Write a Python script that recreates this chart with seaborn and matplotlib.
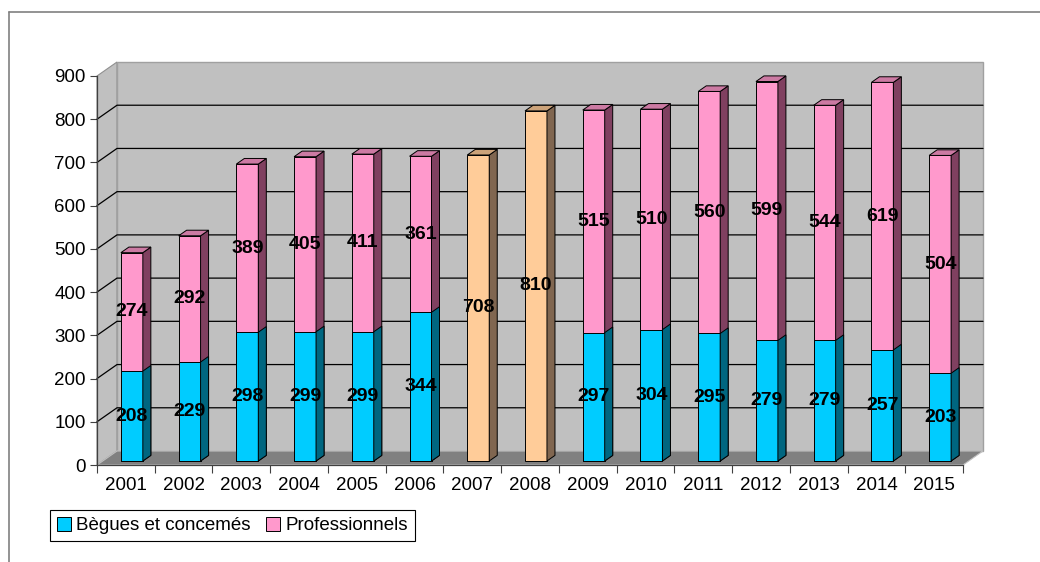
import numpy as np
import matplotlib
matplotlib.use('Agg')
import matplotlib.pyplot as plt
from matplotlib.patches import Polygon, Rectangle, Patch
from matplotlib.lines import Line2D
import seaborn as sns

sns.set_style('white')
plt.rcParams['font.family'] = ['Liberation Sans', 'DejaVu Sans']
plt.rcParams['text.color'] = 'black'
plt.rcParams['xtick.labelcolor'] = 'black'
plt.rcParams['ytick.labelcolor'] = 'black'

# data
years = [str(y) for y in range(2001, 2016)]
begues = [208, 229, 298, 299, 299, 344, np.nan, np.nan, 297, 304, 295, 279, 279, 257, 203]
pros = [274, 292, 389, 405, 411, 361, np.nan, np.nan, 515, 510, 560, 599, 544, 619, 504]
global_only = [np.nan] * 6 + [708, 810] + [np.nan] * 7
series_names = ['Bègues et concemés', 'Professionnels']

totals = [g if np.isnan(b) else b + p for b, p, g in zip(begues, pros, global_only)]

blue, pink, orange = '#00ccff', '#ff99cc', '#ffcc99'
side = {blue: '#006680', pink: '#804060', orange: '#806650'}
top = {blue: '#00a3cc', pink: '#cc7aa3', orange: '#cca37a'}
top_colors = [orange if np.isnan(b) else pink for b in begues]

W, H = 1040, 562
fig = plt.figure(figsize=(W / 100, H / 100), dpi=100)
L, R = 97 / W, 963 / W
B, T = (H - 465) / H, (H - 76) / H
ax = fig.add_axes([L, B, R - L, T - B])
ax.set_facecolor('none')

n = len(years)
ymax = 900
ux = n / ((R - L) * W)       # data units per pixel
uy = ymax / ((T - B) * H)
xl, xr = -0.5, n - 0.5

# wall depth and bar placement (pixels)
wx, wy = 20 * ux, 14 * uy
fx, fy = 6 * ux, 4 * uy
dx, dy = 8 * ux, 5.6 * uy

# front faces via seaborn
sns.barplot(x=years, y=totals, hue=years, palette=top_colors, order=years,
            width=0.38, dodge=False, legend=False, saturation=1,
            edgecolor='black', linewidth=0.7, ax=ax, zorder=2)
top_bars = list(ax.patches)
sns.barplot(x=years, y=begues, color=blue, order=years, width=0.38,
            saturation=1, edgecolor='black', linewidth=0.7, ax=ax, zorder=4)
low_bars = [p for p in ax.patches if p not in top_bars]

for p in top_bars + low_bars:
    h = p.get_height()
    if not np.isfinite(h) or h == 0:
        continue
    x0 = p.get_x() + fx
    y0 = fy
    x1 = x0 + p.get_width()
    y1 = y0 + h
    p.set_x(x0)
    p.set_y(y0)
    fc = matplotlib.colors.to_hex(p.get_facecolor())
    z = p.get_zorder()
    ax.add_patch(Polygon([(x1, y0), (x1 + dx, y0 + dy), (x1 + dx, y1 + dy), (x1, y1)],
                         facecolor=side[fc], edgecolor='black', lw=0.7, zorder=z, clip_on=False))
    if p in top_bars:
        ax.add_patch(Polygon([(x0, y1), (x0 + dx, y1 + dy), (x1 + dx, y1 + dy), (x1, y1)],
                             facecolor=top[fc], edgecolor='black', lw=0.7, zorder=z, clip_on=False))

# walls and floor
ax.add_patch(Polygon([(xl, 0), (xl + wx, wy), (xl + wx, ymax + wy), (xl, ymax)],
                     facecolor='#c0c0c0', edgecolor='#909090', lw=0.8, zorder=0, clip_on=False))
ax.add_patch(Rectangle((xl + wx, wy), xr - xl, ymax, facecolor='#c0c0c0',
                       edgecolor='#a0a0a0', lw=1, zorder=0, clip_on=False))
ax.add_patch(Polygon([(xl, 0), (xr, 0), (xr + wx, wy), (xl + wx, wy)],
                     facecolor='#808080', edgecolor='#c0c0c0', lw=0.8, zorder=0.5, clip_on=False))
for v in range(100, ymax, 100):
    ax.plot([xl, xl + wx, xr + wx], [v, v + wy, v + wy], color='black', lw=0.9,
            zorder=0.6, clip_on=False)

# data labels
lab = dict(ha='center', va='center', fontsize=14, fontweight='bold', color='black', zorder=6)
for i in range(n):
    xc = i + fx
    if np.isnan(begues[i]):
        ax.text(xc, fy + global_only[i] / 2, f'{global_only[i]:.0f}', **lab)
    else:
        ax.text(xc, fy + begues[i] / 2, f'{begues[i]:.0f}', **lab)
        ax.text(xc, fy + begues[i] + pros[i] / 2, f'{pros[i]:.0f}', **lab)

# axes
ax.set_xlim(xl, xr)
ax.set_ylim(0, ymax)
ax.set_yticks(range(0, ymax + 1, 100))
ax.set_xticks(range(n))
ax.set_xticklabels(years)
ax.set_xticks(np.arange(n + 1) - 0.5, minor=True)
ax.tick_params(axis='y', length=5, width=0.8, color='#404040', pad=3, labelsize=13.5, left=True)
ax.tick_params(axis='x', which='major', length=0, pad=9, labelsize=13.5)
ax.tick_params(axis='x', which='minor', length=6, width=0.8, color='#404040', bottom=True)
ax.set_xlabel('')
ax.set_ylabel('')
for s in ['top', 'right']:
    ax.spines[s].set_visible(False)
for s in ['left', 'bottom']:
    ax.spines[s].set_color('#404040')
    ax.spines[s].set_linewidth(0.9)
    ax.spines[s].set_zorder(1)

# legend
handles = [Patch(facecolor=blue, edgecolor='black', lw=0.7),
           Patch(facecolor=pink, edgecolor='black', lw=0.7)]
leg = fig.legend(handles, series_names, loc='lower left', ncol=2,
                 bbox_to_anchor=(50 / W, (H - 541) / H), frameon=True, fancybox=False,
                 edgecolor='black', framealpha=1, fontsize=13.5, handlelength=0.75,
                 handleheight=0.75, handletextpad=0.3, columnspacing=0.8,
                 borderpad=0.35, borderaxespad=0)
leg.get_frame().set_linewidth(0.8)

# outer frame
fig.add_artist(Line2D([9 / W, 9 / W], [0, 1 - 12 / H], color='#808080', lw=1.2))
fig.add_artist(Line2D([9 / W, 1], [1 - 12 / H, 1 - 12 / H], color='#808080', lw=1.2))

fig.savefig('out.png', dpi=100)
